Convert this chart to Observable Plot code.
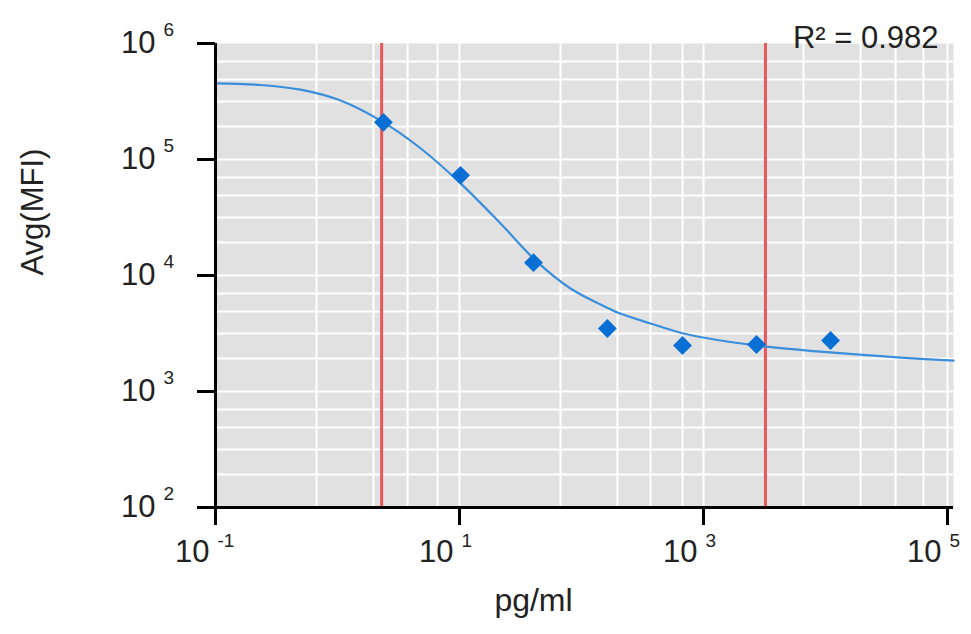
<!DOCTYPE html>
<html>
<head>
<meta charset="utf-8">
<script src="https://cdn.jsdelivr.net/npm/d3@7"></script>
<script src="https://cdn.jsdelivr.net/npm/@observablehq/plot@0.6"></script>
<style>
  html, body { margin: 0; padding: 0; background: white; }
  #chart svg { display: block; }
</style>
</head>
<body>
<div id="chart"></div>
<script>
// Standards (diamonds)
const concentrations = [2.38, 10.2, 40.4, 163, 673, 2720, 11000];
const avgMFI = [209000, 73000, 12900, 3490, 2490, 2540, 2750];

// Fitted curve
const curveX = [0.1, 0.234, 0.498, 1.06, 2.38, 4.79, 10, 21.7, 42, 81.3, 143, 197, 368, 686, 1377, 2770, 11000, 41200, 112000];
const curveY = [454000, 439000, 400000, 322000, 209000, 125000, 63500, 28100, 13500, 7720, 5620, 4800, 3860, 3160, 2750, 2490, 2170, 1960, 1845];

// Limits (red vertical lines)
const limits = [2.3, 3220];

// Axis ticks and labels
const xTicks = [0.1, 10, 1000, 100000];
const xExp = ["-1", "1", "3", "5"];
const yTicks = [100, 1000, 10000, 100000, 1000000];
const yExp = ["2", "3", "4", "5", "6"];

// Grid lines
const xGrid = [0.673, 1.97, 3.75, 6.6, 10, 67.3, 197, 368, 673, 1000, 6600, 19400, 37500, 63500, 100000];
const yGrid = [193, 317, 490, 700, 1000, 1930, 3170, 4900, 7000, 10000, 19300, 31700, 49000, 70000, 100000, 193000, 317000, 490000, 700000];

const r2Label = "R\u00B2 = 0.982";
const xTitle = "pg/ml";
const yTitle = "Avg(MFI)";

const points = concentrations.map((c, i) => ({x: c, y: avgMFI[i]}));
const curve = curveX.map((c, i) => ({x: c, y: curveY[i]}));

const textColor = "#222";
const font = "Liberation Sans, Arial, sans-serif";

const chart = Plot.plot({
  width: 971,
  height: 634,
  marginLeft: 215,
  marginRight: 18,
  marginTop: 43,
  marginBottom: 127,
  x: {type: "log", domain: [0.1, 112000], axis: null},
  y: {type: "log", domain: [100, 1000000], axis: null},
  style: {fontFamily: font, background: "white", overflow: "visible"},
  marks: [
    Plot.frame({fill: "#e1e1e1", stroke: "none"}),
    Plot.ruleX(xGrid, {stroke: "white", strokeWidth: 2}),
    Plot.ruleY(yGrid, {stroke: "white", strokeWidth: 2}),
    Plot.ruleX(limits, {stroke: "#e8585a", strokeWidth: 3}),
    Plot.line(curve, {x: "x", y: "y", stroke: "#3b8edb", strokeWidth: 2.2, curve: "catmull-rom"}),
    Plot.dot(points, {x: "x", y: "y", symbol: "diamond2", r: 8.5, fill: "#0a6fd4", stroke: "none"}),
    Plot.ruleX([0.1], {stroke: "black", strokeWidth: 3}),
    Plot.ruleY([100], {stroke: "black", strokeWidth: 3}),
    Plot.axisX(xTicks, {tickSize: 18, tickFormat: () => "", label: null, strokeWidth: 3, stroke: "black"}),
    Plot.axisY(yTicks, {tickSize: 18, tickFormat: () => "", label: null, strokeWidth: 3, stroke: "black"}),
    // x tick labels: "10" + superscript exponent
    Plot.text(xTicks, {x: d => d, text: () => "10", frameAnchor: "bottom", dy: 54, dx: -6, textAnchor: "end", fontSize: 31, fill: textColor}),
    Plot.text(xTicks, {x: d => d, text: (d, i) => xExp[i], frameAnchor: "bottom", dy: 39, dx: 2, textAnchor: "start", fontSize: 19, fill: textColor}),
    // y tick labels
    Plot.text(yTicks, {y: d => d, text: () => "10", frameAnchor: "left", dx: -60, textAnchor: "end", fontSize: 31, fill: textColor}),
    Plot.text(yTicks, {y: d => d, text: (d, i) => yExp[i], frameAnchor: "left", dx: -52, dy: -14, textAnchor: "start", fontSize: 19, fill: textColor}),
    // titles
    Plot.text([xTitle], {frameAnchor: "bottom", dx: -51, dy: 103, fontSize: 32, fill: textColor}),
    Plot.text([yTitle], {frameAnchor: "left", dx: -182, rotate: -90, fontSize: 31, fill: textColor}),
    Plot.text([r2Label], {frameAnchor: "top-right", dx: -15, dy: -18, textAnchor: "end", fontSize: 31, fill: textColor})
  ]
});

document.getElementById("chart").appendChild(chart);
</script>
</body>
</html>
